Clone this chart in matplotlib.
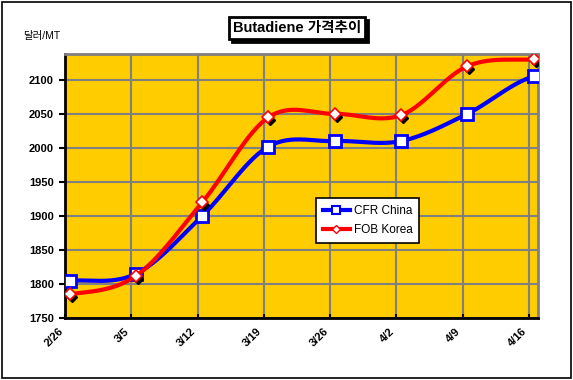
import numpy as np
import matplotlib.pyplot as plt
import matplotlib.transforms as mtransforms
from matplotlib.lines import Line2D

plt.rcParams['font.family'] = ['Liberation Sans', 'Noto Sans CJK KR', 'DejaVu Sans']

dates = ['2/26', '3/5', '3/12', '3/19', '3/26', '4/2', '4/9', '4/16']
cfr_china = [1805, 1815, 1900, 2002, 2010, 2010, 2050, 2105]
fob_korea = [1785, 1812, 1920, 2045, 2050, 2048, 2120, 2130]


def smooth(y, n=30):
    # Excel 스타일 부드러운 선 (Catmull-Rom)
    y = np.asarray(y, float)
    x = np.arange(len(y), dtype=float)
    xs, ys = [], []
    for i in range(len(y) - 1):
        p0 = y[i - 1] if i > 0 else y[i]
        p3 = y[i + 2] if i + 2 < len(y) else y[i + 1]
        p1, p2 = y[i], y[i + 1]
        t = np.linspace(0, 1, n, endpoint=False)
        yy = 0.5 * ((2 * p1) + (-p0 + p2) * t + (2 * p0 - 5 * p1 + 4 * p2 - p3) * t ** 2
                    + (-p0 + 3 * p1 - 3 * p2 + p3) * t ** 3)
        xs.append(x[i] + t)
        ys.append(yy)
    xs.append([x[-1]])
    ys.append([y[-1]])
    return np.concatenate(xs), np.concatenate(ys)


fig = plt.figure(figsize=(5.73, 3.8), dpi=100)
ax = fig.add_axes([0.1134, 0.163, 0.826, 0.695])
ax.set_facecolor('#FFCC00')

x = np.arange(len(dates))
sx, sy = smooth(cfr_china)
ax.plot(sx, sy, color='blue', lw=3, zorder=3)
ax.plot(x, cfr_china, ls='none', marker='s', ms=8, mfc='white', mec='blue', mew=2, zorder=4)

shadow = ax.transData + mtransforms.ScaledTranslation(2 / 100, -3 / 100, fig.dpi_scale_trans)
sx, sy = smooth(fob_korea)
ax.plot(sx, sy, color='red', lw=3, zorder=5)
ax.plot(x, fob_korea, ls='none', marker='D', ms=5, mfc='black', mec='black', transform=shadow, zorder=5)
ax.plot(x, fob_korea, ls='none', marker='D', ms=6, mfc='white', mec='red', mew=1.2, zorder=6)

ax.set_xlim(-0.05, 7.07)
ax.set_ylim(1750, 2138)
ax.set_yticks(np.arange(1750, 2101, 50))
ax.set_xticks(x - 0.07)
ax.set_xticklabels(dates, rotation=45, ha='right', va='top', fontsize=8, fontweight='bold')
for lbl in ax.get_yticklabels():
    lbl.set_fontsize(8)
    lbl.set_fontweight('bold')
ax.tick_params(axis='y', direction='out', length=4, width=1.5, pad=4)
ax.tick_params(axis='x', direction='in', length=3, width=1.5, pad=6)

ax.grid(True, color='#808080', lw=1.5, zorder=1)
ax.set_axisbelow(True)
for s in ['top', 'right']:
    ax.spines[s].set_color('#808080')
    ax.spines[s].set_linewidth(2)
for s in ['left', 'bottom']:
    ax.spines[s].set_color('black')
    ax.spines[s].set_linewidth(2)

handles = [Line2D([], [], color='blue', lw=3, marker='s', ms=6, mfc='white', mec='blue', mew=1.5),
           Line2D([], [], color='red', lw=3, marker='D', ms=4, mfc='white', mec='red', mew=1)]
leg = ax.legend(handles, ['CFR China', 'FOB Korea'], loc='center left',
                bbox_to_anchor=(0.53, 0.37), fontsize=8.5, frameon=True, fancybox=False,
                handlelength=2.3, borderpad=0.6, labelspacing=0.6, handletextpad=0.3,
                borderaxespad=0)
leg.get_frame().set_edgecolor('black')
leg.get_frame().set_linewidth(1.2)
leg.get_frame().set_facecolor('white')
leg.get_frame().set_alpha(1)

# 제목 + 그림자
t = fig.text(0.518, 0.926, 'Butadiene 가격추이', ha='center', va='center', fontsize=10.5,
             fontweight='bold', zorder=5,
             bbox=dict(boxstyle='square,pad=0.25', fc='white', ec='black', lw=2))
fig.canvas.draw()
bb = t.get_bbox_patch().get_window_extent().transformed(fig.transFigure.inverted())
fig.patches.append(plt.Rectangle((bb.x0 + 3 / 573, bb.y0 - 3 / 380), bb.width, bb.height,
                                 transform=fig.transFigure, fc='black', ec='black', lw=2, zorder=4))

fig.text(0.04, 0.905, '달러/MT', ha='left', va='center', fontsize=7.5)

fig.patches.append(plt.Rectangle((0.003, 0.004), 0.994, 0.992, transform=fig.transFigure,
                                 fill=False, ec='black', lw=1.2))

fig.savefig('out.png', dpi=100)
